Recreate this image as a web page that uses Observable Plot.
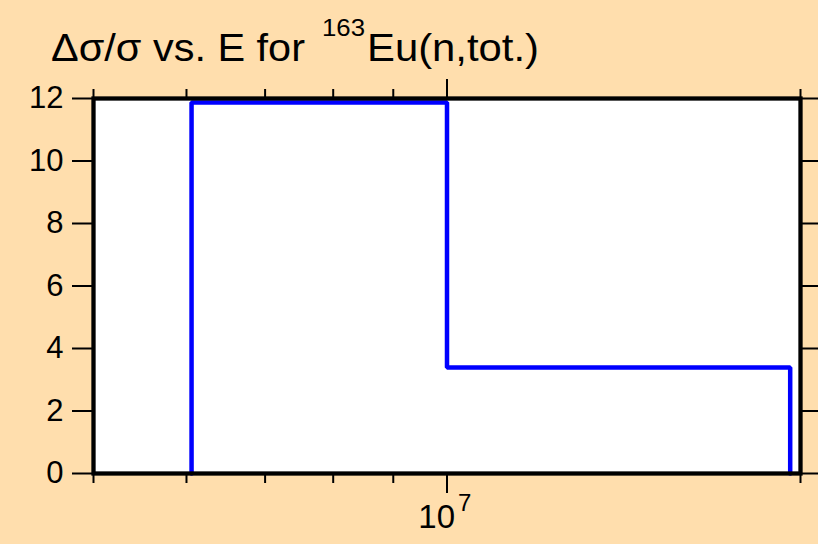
<!DOCTYPE html>
<html>
<head>
<meta charset="utf-8">
<script src="https://cdn.jsdelivr.net/npm/d3@7"></script>
<script src="https://cdn.jsdelivr.net/npm/@observablehq/plot@0.6"></script>
<style>
  html, body { margin: 0; padding: 0; background: #FFDEAD; }
  svg { display: block; }
</style>
</head>
<body>
<div id="chart"></div>
<script>
// Bin edges (eV) and relative uncertainty values (%)
const binEdges = [6.06e6, 1.0e7, 1.96e7];
const binValues = [11.87, 3.39];

const yTicks = [0, 2, 4, 6, 8, 10, 12];
const xMinorTicks = [5e6, 6e6, 7e6, 8e6, 9e6, 2e7];
const xMajorTicks = [1e7];
const xMajorBase = ["10"];
const xMajorExp = ["7"];

const titleMain = "Δσ/σ vs. E for";
const titleSup = "163";
const titleEnd = "Eu(n,tot.)";

// Build step outline from bins
const stepPts = [{E: binEdges[0], v: 0}];
binValues.forEach((v, i) => {
  stepPts.push({E: binEdges[i], v});
  stepPts.push({E: binEdges[i + 1], v});
});
stepPts.push({E: binEdges[binEdges.length - 1], v: 0});

const font = "'Liberation Sans', Arial, Helvetica, sans-serif";
const majorLabels = xMajorTicks.map((E, i) => ({E, base: xMajorBase[i], exp: xMajorExp[i]}));

const chart = Plot.plot({
  width: 818,
  height: 544,
  marginLeft: 93,
  marginRight: 18,
  marginTop: 98,
  marginBottom: 71,
  style: {background: "#FFDEAD", fontFamily: font, fontSize: "31px", color: "black"},
  x: {type: "log", domain: [5e6, 2e7]},
  y: {domain: [0, 12]},
  marks: [
    Plot.frame({fill: "white", stroke: null}),
    Plot.line(stepPts, {x: "E", y: "v", stroke: "#0000FF", strokeWidth: 4.5, strokeLinejoin: "miter"}),
    Plot.frame({stroke: "black", strokeWidth: 4.3}),
    Plot.axisY({anchor: "left", ticks: yTicks, tickSize: 21, tickPadding: 9, strokeWidth: 2, label: null, fontSize: 31}),
    Plot.axisY({anchor: "right", ticks: yTicks, tickSize: 20, strokeWidth: 2, tickFormat: () => "", label: null}),
    Plot.axisX({anchor: "bottom", ticks: xMinorTicks, tickSize: 10, strokeWidth: 2, tickFormat: () => "", label: null}),
    Plot.axisX({anchor: "bottom", ticks: xMajorTicks, tickSize: 20, strokeWidth: 2, tickFormat: () => "", label: null}),
    Plot.axisX({anchor: "top", ticks: xMinorTicks, tickSize: 10, strokeWidth: 2, tickFormat: () => "", label: null}),
    Plot.axisX({anchor: "top", ticks: xMajorTicks, tickSize: 20, strokeWidth: 2, tickFormat: () => "", label: null}),
    Plot.text(majorLabels, {x: "E", text: "base", frameAnchor: "bottom", textAnchor: "end", lineAnchor: "bottom", dx: 8, dy: 54, fontSize: 33, fill: "black"}),
    Plot.text(majorLabels, {x: "E", text: "exp", frameAnchor: "bottom", textAnchor: "start", lineAnchor: "bottom", dx: 11, dy: 37, fontSize: 24, fill: "black"})
  ]
});

const svg = d3.select(chart);
const g = svg.append("g")
  .attr("font-family", font)
  .attr("fill", "black")
  .attr("text-anchor", "start");
g.append("text").attr("x", 51).attr("y", 61).attr("font-size", 38)
  .attr("textLength", 254).attr("lengthAdjust", "spacingAndGlyphs").text(titleMain);
g.append("text").attr("x", 322).attr("y", 36).attr("font-size", 24)
  .attr("textLength", 43).attr("lengthAdjust", "spacingAndGlyphs").text(titleSup);
g.append("text").attr("x", 367).attr("y", 61).attr("font-size", 38)
  .attr("textLength", 172).attr("lengthAdjust", "spacingAndGlyphs").text(titleEnd);

document.getElementById("chart").appendChild(chart);
</script>
</body>
</html>
